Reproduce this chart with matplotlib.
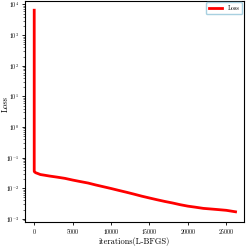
import matplotlib
matplotlib.use('Agg')
import matplotlib.pyplot as plt
from matplotlib.ticker import LogLocator, NullFormatter

# values
iterations = [0, 0, 50, 200, 500, 800, 1200, 2000, 3000, 4000, 5000, 6000, 7000, 8000,
              9000, 10000, 11000, 12000, 13000, 14000, 15000, 16000, 17000, 18000,
              19000, 20000, 21000, 22000, 23000, 24000, 25000, 26200]
loss = [6500, 0.036, 0.034, 0.032, 0.030, 0.028, 0.027, 0.025, 0.023, 0.021, 0.0185,
        0.0165, 0.0148, 0.0128, 0.0112, 0.0098, 0.0085, 0.0074, 0.0064, 0.0055,
        0.0048, 0.0042, 0.0037, 0.0033, 0.0029, 0.0026, 0.0024, 0.0022, 0.0021,
        0.0020, 0.0019, 0.0017]

plt.rcParams['font.family'] = 'serif'
plt.rcParams['font.serif'] = ['cmr10', 'DejaVu Serif']
plt.rcParams['mathtext.fontset'] = 'cm'
plt.rcParams['axes.formatter.use_mathtext'] = True
plt.rcParams['axes.unicode_minus'] = False

fig = plt.figure(figsize=(2.46, 2.46), dpi=100)
ax = fig.add_axes([25 / 246, 24.5 / 246, 219 / 246, 221 / 246])

ax.plot(iterations, loss, color='red', linewidth=2, label='Loss')
ax.set_yscale('log')
ax.set_ylim(8.2e-4, 1.35e4)
ax.yaxis.set_major_locator(LogLocator(base=10, numticks=20))
ax.yaxis.set_minor_locator(LogLocator(base=10, subs=range(2, 10), numticks=20))
ax.yaxis.set_minor_formatter(NullFormatter())
ax.set_xlim(-1200, 27300)
ax.set_xticks([0, 5000, 10000, 15000, 20000, 25000])

ax.set_xlabel('iterations(L-BFGS)', fontsize=6, va='center')
ax.xaxis.set_label_coords(0.5, -0.092)
ax.set_ylabel('Loss', fontsize=6, va='center')
ax.yaxis.set_label_coords(-0.088, 0.53)
ax.tick_params(labelsize=4.3, length=2.5, width=0.6, pad=1.5)
ax.tick_params(which='minor', length=1.5, width=0.4)
for s in ax.spines.values():
    s.set_linewidth(0.8)

ax.legend(loc='upper right', fontsize=4.5, handlelength=2.2, borderpad=0.45,
          edgecolor='#a8d0e0', framealpha=1, borderaxespad=0.3)

plt.savefig('out.png', dpi=100)
